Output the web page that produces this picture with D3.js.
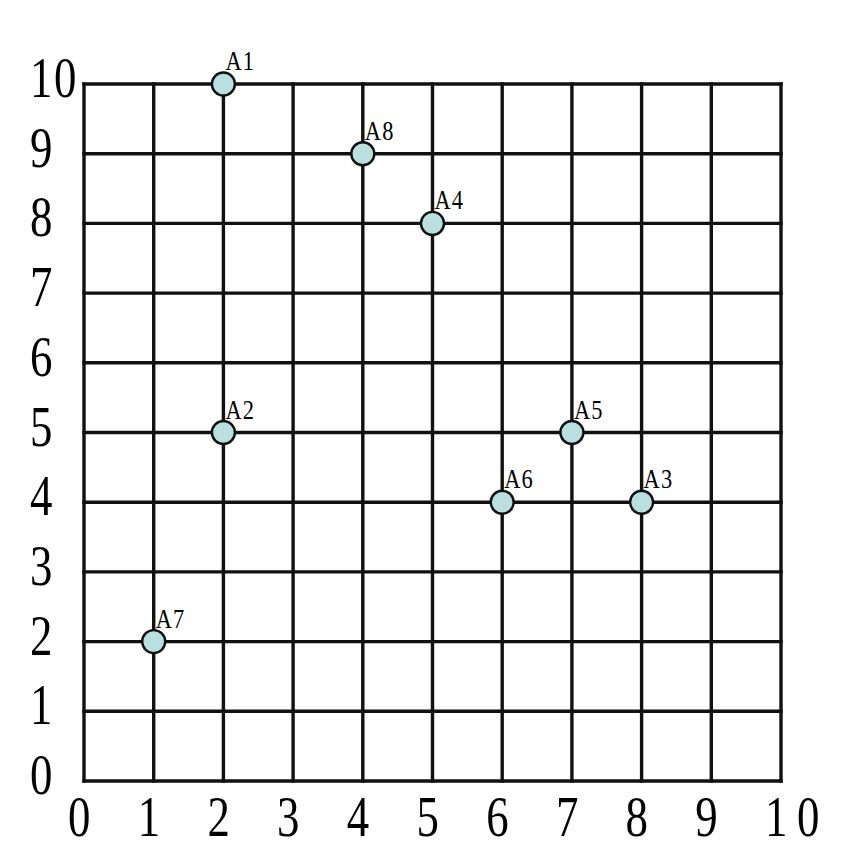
<!DOCTYPE html>
<html><head><meta charset="utf-8">
<script src="https://cdn.jsdelivr.net/npm/d3@7"></script>
<style>body{margin:0;background:#fff}</style>
</head><body>
<svg id="c" width="865" height="866"></svg>
<script>
const pointNames = ["A1","A2","A3","A4","A5","A6","A7","A8"];
const pointX = [2,2,8,5,7,6,1,4];
const pointY = [10,5,4,8,5,4,2,9];
const tickValues = [0,1,2,3,4,5,6,7,8,9,10];

const svg = d3.select("#c");
const x = d3.scaleLinear().domain([0,10]).range([84,781]);
const y = d3.scaleLinear().domain([0,10]).range([781,84]);

const grid = svg.append("g").attr("stroke","#111").attr("stroke-width",3.4).attr("stroke-linecap","square");
grid.selectAll("line.v").data(tickValues).join("line")
  .attr("x1",d=>x(d)).attr("x2",d=>x(d)).attr("y1",y(0)).attr("y2",y(10));
grid.selectAll("line.h").data(tickValues).join("line")
  .attr("y1",d=>y(d)).attr("y2",d=>y(d)).attr("x1",x(0)).attr("x2",x(10));

const font = "'Liberation Serif', 'DejaVu Serif', serif";
// x tick labels
svg.append("g").selectAll("text").data(tickValues).join("text")
  .attr("transform",d=>`translate(${x(d)-16},836) scale(0.8,1)`)
  .attr("font-family",font).attr("font-size",56).attr("fill","#000")
  .attr("letter-spacing", d=> d>=10 ? 12 : 0)
  .text(d=>d);
// y tick labels
svg.append("g").selectAll("text").data(tickValues).join("text")
  .attr("transform",d=>`translate(30,${y(d)+13}) scale(0.8,1)`)
  .attr("font-family",font).attr("font-size",56).attr("fill","#000")
  .attr("letter-spacing", d=> d>=10 ? 2 : 0)
  .text(d=>d);

const pts = pointNames.map((n,i)=>({n,x:pointX[i],y:pointY[i]}));
svg.append("g").selectAll("circle").data(pts).join("circle")
  .attr("cx",d=>x(d.x)).attr("cy",d=>y(d.y)).attr("r",11.5)
  .attr("fill","#b9dfe0").attr("stroke","#111").attr("stroke-width",2.4);
svg.append("g").selectAll("text").data(pts).join("text")
  .attr("transform",d=>`translate(${x(d.x)+2},${y(d.y)-14}) scale(0.8,1)`)
  .attr("font-family",font).attr("font-size",28).attr("fill","#000")
  .attr("letter-spacing",1.5)
  .text(d=>d.n);
</script>
</body></html>
